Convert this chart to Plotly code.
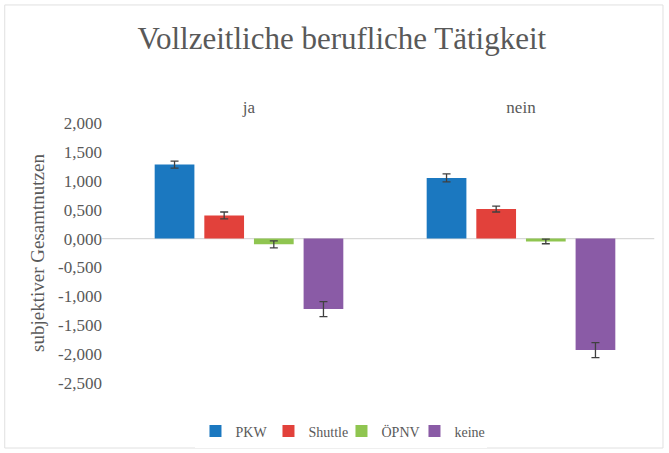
import plotly.graph_objects as go

groups = ["ja", "nein"]
modes = ["PKW", "Shuttle", "ÖPNV", "keine"]
colors = ["#1b78c0", "#e2413b", "#8fc550", "#8a5ba6"]

# mean subjective utility per mode, for ja / nein
pkw = [1.28, 1.05]
shuttle = [0.40, 0.51]
oepnv = [-0.10, -0.05]
keine = [-1.22, -1.93]
values = [pkw, shuttle, oepnv, keine]

# standard errors
pkw_err = [0.06, 0.07]
shuttle_err = [0.06, 0.05]
oepnv_err = [0.06, 0.04]
keine_err = [0.13, 0.13]
errors = [pkw_err, shuttle_err, oepnv_err, keine_err]

tick_vals = [2.0, 1.5, 1.0, 0.5, 0.0, -0.5, -1.0, -1.5, -2.0, -2.5]
tick_text = ["2,000", "1,500", "1,000", "0,500", "0,000",
             "-0,500", "-1,000", "-1,500", "-2,000", "-2,500"]

font_family = "Liberation Serif, Times New Roman, serif"
text_color = "#595959"

fig = go.Figure()
for name, vals, errs, col in zip(modes, values, errors, colors):
    fig.add_trace(
        go.Bar(
            x=groups,
            y=vals,
            name=name,
            marker=dict(color=col, line=dict(width=0)),
            error_y=dict(type="data", array=errs, color="#404040",
                         thickness=1.3, width=4),
        )
    )

# plot area: x 113..657, y 123..383 px
fig.update_layout(
    width=669,
    height=453,
    barmode="group",
    bargap=0.27,
    bargroupgap=0.2,
    paper_bgcolor="white",
    plot_bgcolor="white",
    font=dict(family=font_family, color=text_color, size=15),
    title=dict(text="Vollzeitliche berufliche Tätigkeit", x=0.511, xanchor="center",
               y=0.915, yanchor="middle", font=dict(size=31, color=text_color)),
    margin=dict(l=113, r=12, t=123, b=70, autoexpand=False),
    showlegend=True,
    legend=dict(orientation="h", x=0.42, xanchor="center", y=-0.125, yanchor="top",
                font=dict(size=14), itemwidth=30, entrywidth=28,
                traceorder="normal"),
    xaxis=dict(side="top", showline=False, ticks="", showgrid=False,
               tickfont=dict(size=17), ticklabelstandoff=6),
    yaxis=dict(range=[-2.5, 2.0], tickvals=tick_vals, ticktext=tick_text,
               showgrid=False, zeroline=False, showline=False,
               tickfont=dict(size=17), ticklabelstandoff=10,
               title=dict(text="subjektiver Gesamtnutzen", font=dict(size=19),
                          standoff=8)),
    shapes=[
        dict(type="line", xref="paper", yref="y", x0=-0.02, x1=0.995, y0=0, y1=0,
             line=dict(color="#d9d9d9", width=1.2), layer="below"),
        dict(type="rect", xref="paper", yref="paper", x0=-0.199, x1=1.011,
             y0=-0.25, y1=1.454, line=dict(color="#e0e0e0", width=1)),
    ],
)

# drop the default 8px body margin so the figure sits at the window origin
fig.write_html(
    "out.html",
    config={"displayModeBar": False},
    post_script="document.body.style.margin='0';",
)
